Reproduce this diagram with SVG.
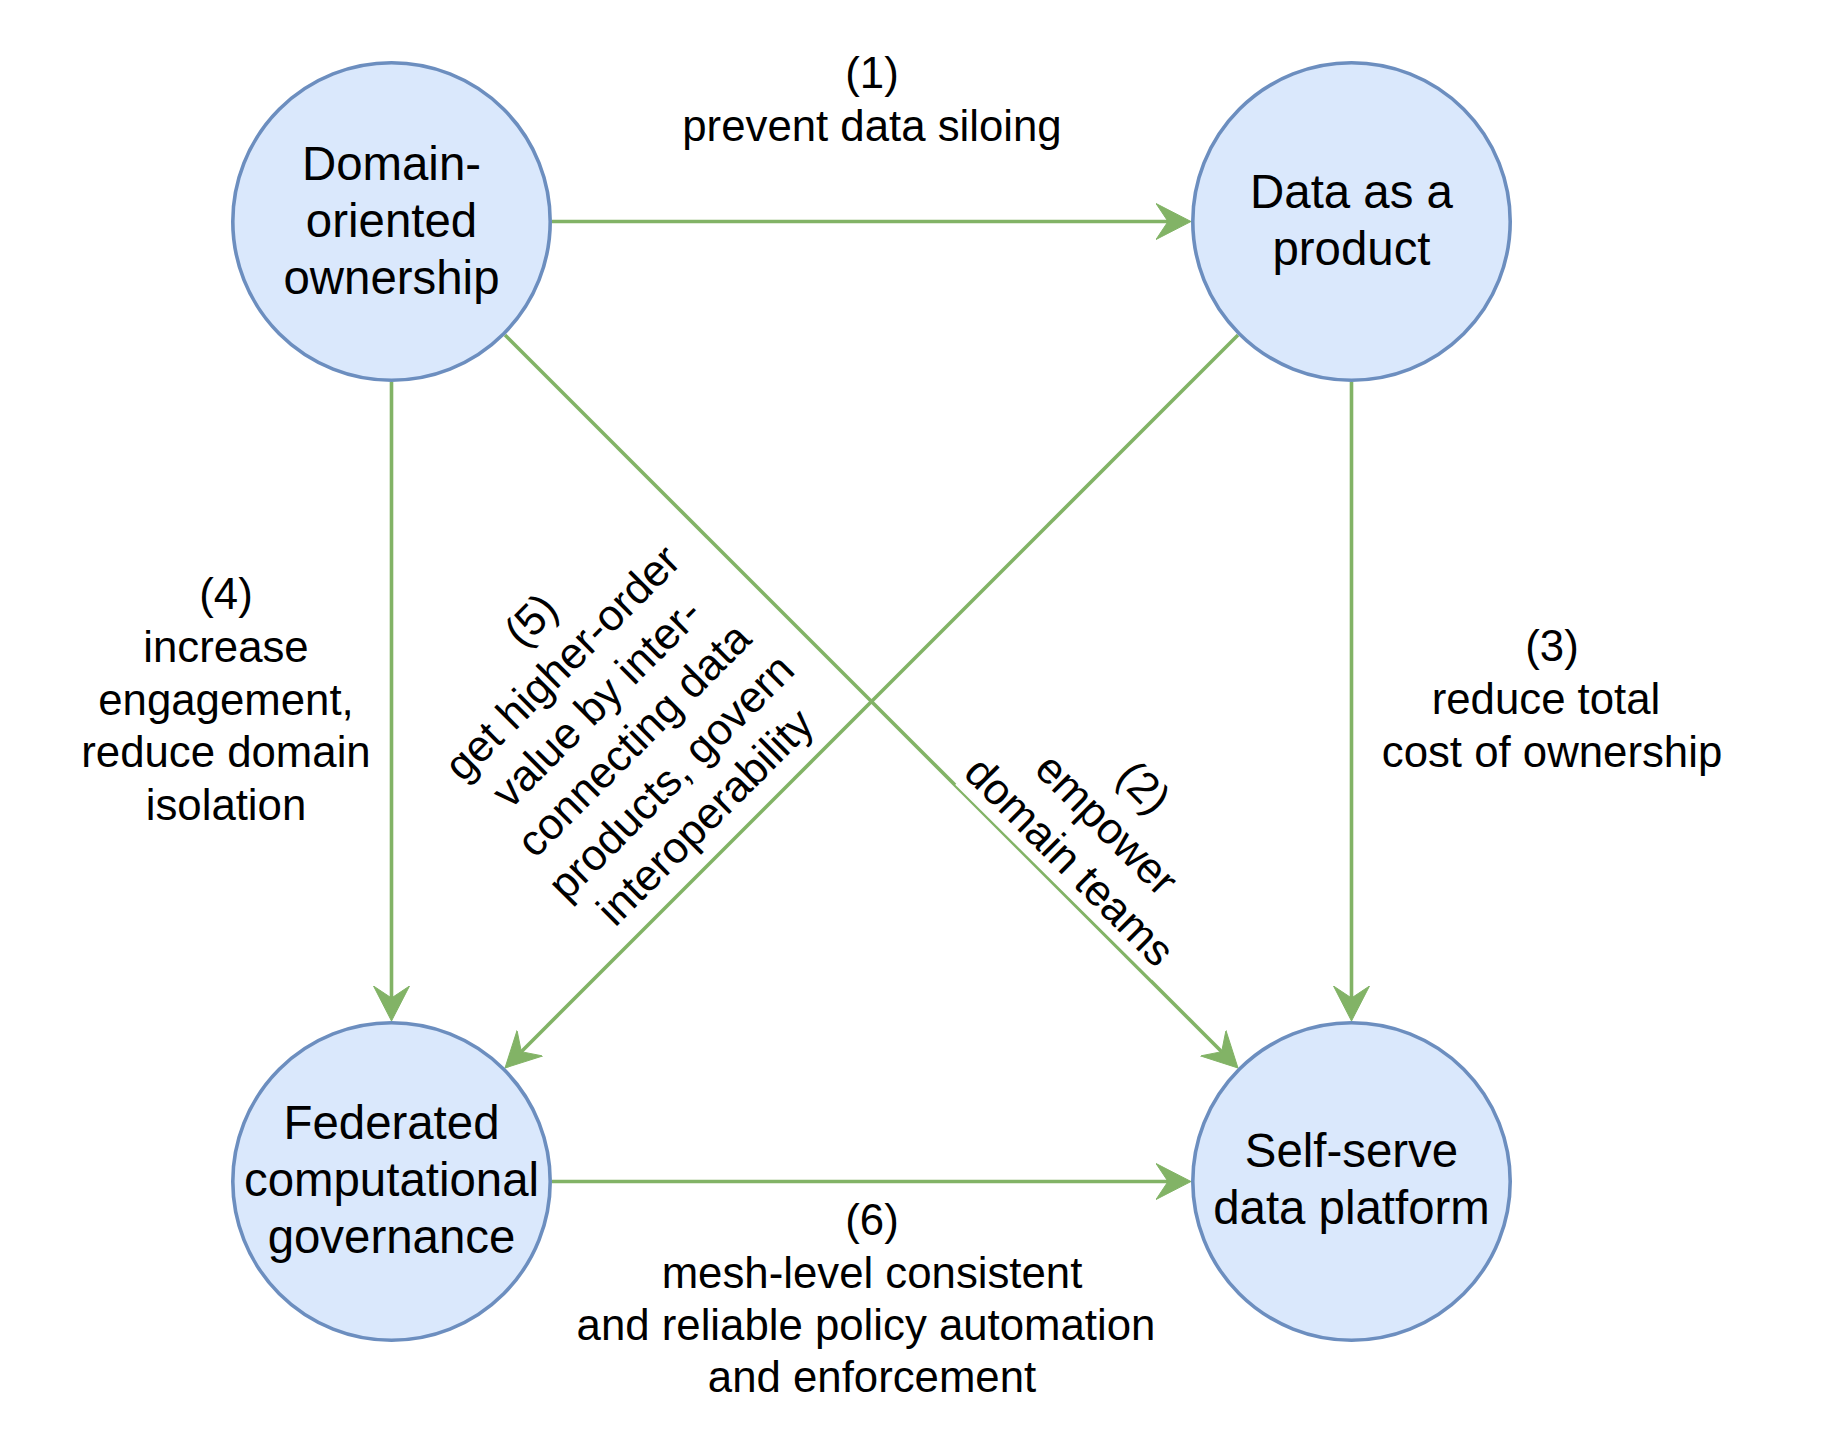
<svg xmlns="http://www.w3.org/2000/svg" width="1828" height="1452" viewBox="0 0 1828 1452">
<style>
.node{fill:#dae8fc;stroke:#6c8ebf;stroke-width:3.6}
.nt{font-family:"Liberation Sans",Arial,Helvetica,sans-serif;font-size:47.4px;fill:#000;text-anchor:middle}
.lt{font-family:"Liberation Sans",Arial,Helvetica,sans-serif;font-size:43.75px;fill:#000;text-anchor:middle}
.edge{fill:none;stroke:#82b366;stroke-width:3.6;marker-end:url(#arr)}
</style>
<defs>
<marker id="arr" markerUnits="userSpaceOnUse" markerWidth="36" markerHeight="37" viewBox="0 0 36 37" refX="12" refY="18.5" orient="auto">
<path d="M0,0.5 L35,18.5 L0,36.5 L12,18.5 Z" fill="#82b366" stroke="#82b366" stroke-width="1"/>
</marker>
</defs>
<rect width="1828" height="1452" fill="#ffffff"/>
<g id="connectors">
<line class="edge" x1="552" y1="221.5" x2="1168" y2="221.5"/>
<line class="edge" x1="505" y1="335" x2="1221.7" y2="1051.7"/>
<line class="edge" x1="1351.5" y1="382" x2="1351.5" y2="998"/>
<line class="edge" x1="391.5" y1="382" x2="391.5" y2="998"/>
<line class="edge" x1="1238" y1="335" x2="521.3" y2="1051.7"/>
<line class="edge" x1="552" y1="1181.5" x2="1168" y2="1181.5"/>
<line x1="955.9" y1="784.1" x2="1152.6" y2="979.1" stroke="#ffffff" stroke-width="1.8"/>
</g>
<g id="labels">
<g id="label1">
<text class="lt" x="872" y="88">(1)</text>
<text class="lt" x="872" y="140.5">prevent data siloing</text>
</g>
<g id="label2" transform="translate(1107,824) rotate(45)">
<text class="lt" x="0" y="-37.3">(2)</text>
<text class="lt" x="0" y="15.2">empower</text>
<text class="lt" x="0" y="67.7">domain teams</text>
</g>
<g id="label3">
<text class="lt" x="1552" y="661">(3)</text>
<text class="lt" x="1546" y="714">reduce total</text>
<text class="lt" x="1552" y="767">cost of ownership</text>
</g>
<g id="label4">
<text class="lt" x="226" y="609">(4)</text>
<text class="lt" x="226" y="662">increase</text>
<text class="lt" x="226" y="715">engagement,</text>
<text class="lt" x="226" y="767">reduce domain</text>
<text class="lt" x="226" y="820">isolation</text>
</g>
<g id="label5" transform="translate(615,721) rotate(-45)">
<text class="lt" x="12" y="-116.1">(5)</text>
<text class="lt" x="4" y="-63.6">get higher-order</text>
<text class="lt" x="0" y="-11.1">value by inter-</text>
<text class="lt" x="0" y="41.4">connecting data</text>
<text class="lt" x="0" y="93.9">products, govern</text>
<text class="lt" x="-4" y="146.4">interoperability</text>
</g>
<g id="label6">
<text class="lt" x="872" y="1235">(6)</text>
<text class="lt" x="872" y="1288">mesh-level consistent</text>
<text class="lt" x="866" y="1340">and reliable policy automation</text>
<text class="lt" x="872" y="1392">and enforcement</text>
</g>
</g>
<g id="node-domain">
<circle class="node" cx="391.5" cy="221.5" r="158.7"/>
<text class="nt" x="391.5" y="180">Domain-</text>
<text class="nt" x="391.5" y="237">oriented</text>
<text class="nt" x="391.5" y="294">ownership</text>
</g>
<g id="node-product">
<circle class="node" cx="1351.5" cy="221.5" r="158.7"/>
<text class="nt" x="1351.5" y="208">Data as a</text>
<text class="nt" x="1351.5" y="265">product</text>
</g>
<g id="node-governance">
<circle class="node" cx="391.5" cy="1181.5" r="158.7"/>
<text class="nt" x="391.5" y="1139">Federated</text>
<text class="nt" x="391.5" y="1196">computational</text>
<text class="nt" x="391.5" y="1253">governance</text>
</g>
<g id="node-platform">
<circle class="node" cx="1351.5" cy="1181.5" r="158.7"/>
<text class="nt" x="1351.5" y="1167">Self-serve</text>
<text class="nt" x="1351.5" y="1224">data platform</text>
</g>
</svg>
